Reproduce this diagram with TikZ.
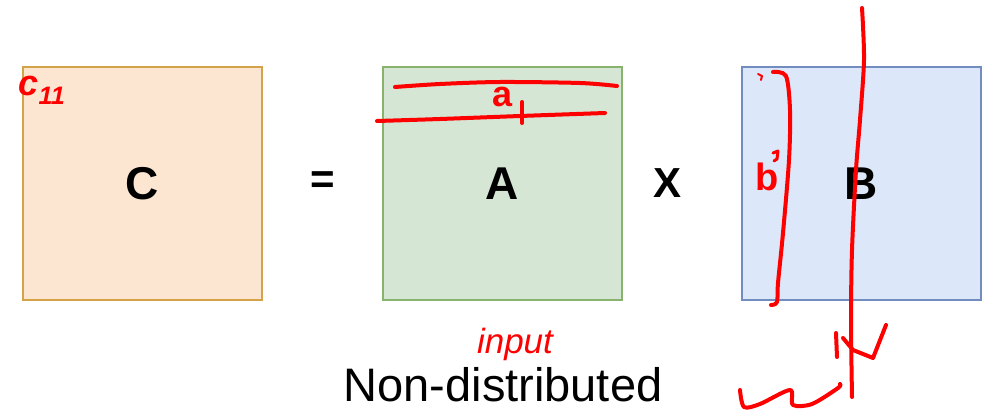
\documentclass[tikz,border=0pt]{standalone}
\usepackage{fontspec}
\setmainfont{Liberation Sans}
\definecolor{cfill}{HTML}{FCE6D2}
\definecolor{cdraw}{HTML}{D4A348}
\definecolor{afill}{HTML}{D6E6D4}
\definecolor{adraw}{HTML}{88B36C}
\definecolor{bfill}{HTML}{DCE7F9}
\definecolor{bdraw}{HTML}{718CBF}
\definecolor{ink}{HTML}{FF0000}
\tikzset{
  mat/.style={minimum width=239pt, minimum height=233pt, line width=2.4pt, inner sep=0pt,
    font=\fontsize{46}{46}\selectfont\bfseries},
  op/.style={font=\fontsize{42}{42}\selectfont\bfseries, inner sep=0pt},
  caption/.style={font=\fontsize{47}{47}\selectfont, inner sep=0pt},
  hand/.style={draw=ink, line width=4pt, line cap=round, line join=round},
  handtext/.style={text=ink, inner sep=0pt, font=\itshape}
}
\begin{document}
\begin{tikzpicture}[x=1pt,y=-1pt]
\useasboundingbox (0,0) rectangle (983,415);
\node[mat, fill=cfill, draw=cdraw] (C) at (142.5,183.5) {C};
\node[mat, fill=afill, draw=adraw] (A) at (502.5,183.5) {A};
\node[mat, fill=bfill, draw=bdraw] (B) at (861.5,183.5) {B};
\node[op] (eq) at (323,183) {=};
\node[op] (x) at (668,183) {X};
\node[caption] (cap) at (503,385) {Non-distributed};
% handwriting on C
\node[handtext, font=\fontsize{36}{36}\selectfont\itshape\bfseries] (c11) at (42,90) {c\textsubscript{11}};
% row a1 on A
\draw[hand] plot[smooth] coordinates {(395,87) (440,84) (500,82) (580,83) (617,86)};
\draw[hand] plot[smooth] coordinates {(377,121) (440,119) (520,116) (605,113)};
\node[handtext, font=\fontsize{36}{36}\selectfont\bfseries] (a1) at (503,97) {a};
\draw[hand] (522,102) -- (522,123);
% column b1 on B
\draw[hand, line width=2pt] (758,74) -- (762,76) -- (761,80);
\draw[hand] plot[smooth] coordinates {(773,72) (786,76) (790,110) (789,160) (783,233) (778,283) (777,302) (771,305)};
\node[handtext, font=\fontsize{38}{38}\selectfont\bfseries] (b1) at (767,177) {b};
\draw[hand, line width=3pt] (773,153) -- (778,151) -- (777,159) -- (774,161);
% long vertical line
\draw[hand] plot[smooth] coordinates {(862,8) (864,60) (860,120) (856,170) (852,250) (851,320) (852,397)};
% W
\draw[hand] (836,333) -- (837,357);
\draw[hand] (843,338) -- (853,350) -- (873,358) -- (886,325);
% squiggle bottom left
\draw[hand] plot[smooth] coordinates {(740,390) (744,407) (760,404) (790,390) (793,405) (812,404) (838,388) (840,384)};
% input
\node[handtext, font=\fontsize{35}{35}\selectfont\itshape] (inp) at (515,344) {input};
\end{tikzpicture}
\end{document}
